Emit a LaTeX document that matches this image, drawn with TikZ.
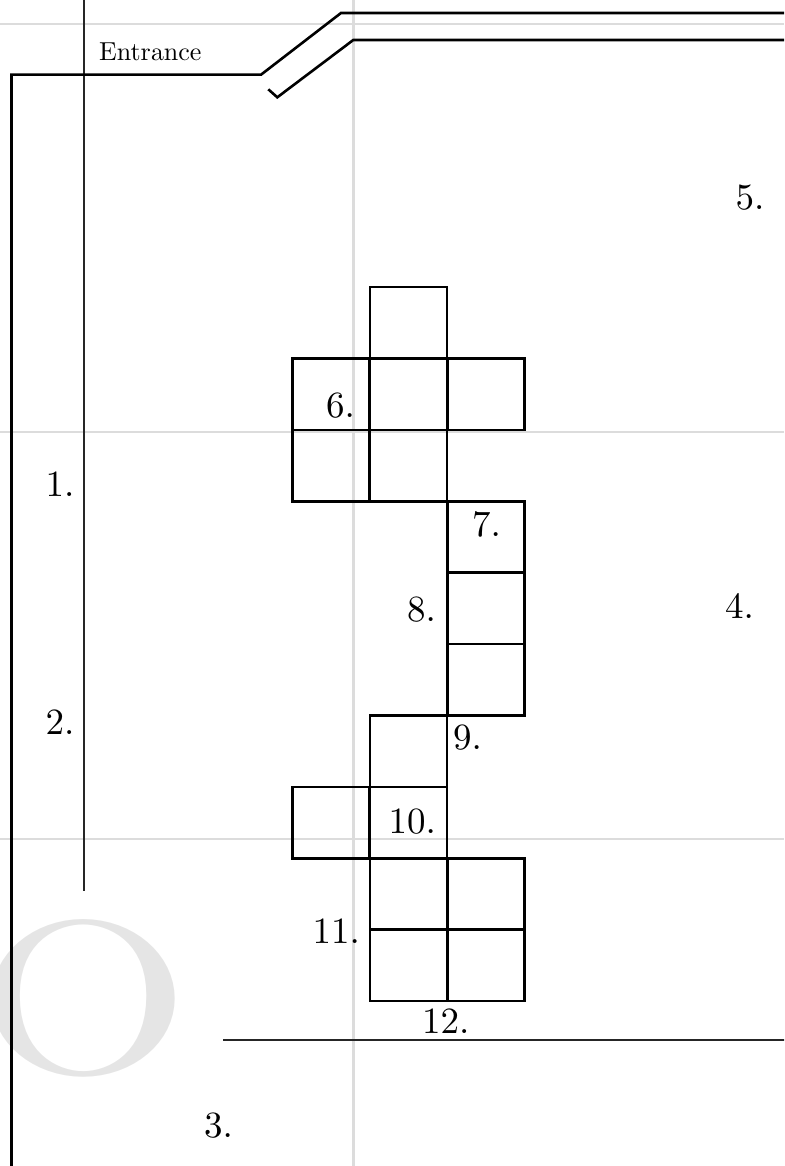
\documentclass[tikz,border=0pt]{standalone}
\definecolor{guide}{RGB}{220,220,220}
\definecolor{ogray}{RGB}{229,229,229}
\font\numfont=cmr10 at 37pt
\font\entfont=cmr10 at 26pt
\font\bigofont=cmr10 at 217pt
\begin{document}
\begin{tikzpicture}[x=1pt,y=-1pt,
  wall/.style={line width=2.6pt,line join=miter},
  thinline/.style={line width=1.2pt,black!85},
  guideline/.style={line width=2.4pt,guide},
  cell/.style={draw,line width=2.6pt,minimum width=77.2pt,minimum height=71.4pt,inner sep=0pt,outer sep=0pt},
  num/.style={font=\numfont,inner sep=0pt,anchor=base east}]
\useasboundingbox (0,0) rectangle (784,1166);
\clip (0,0) rectangle (784,1166);
% guide lines
\draw[guideline] (0,24) -- (784,24);
\draw[guideline] (0,432) -- (784,432);
\draw[guideline] (0,839) -- (784,839);
\draw[guideline] (353.3,0) -- (353.3,1166);
% big letter
\node[text=ogray,font=\bigofont,inner sep=0pt,anchor=base,xscale=1.27] (bigO) at (84,1072) {O};
% thin lines
\draw[thinline] (84,-2) -- (84,891);
\draw[thinline] (223,1040) -- (786,1040);
% walls
\draw[wall] (11.5,1170) -- (11.5,74.7) -- (261,74.7) -- (341,13) -- (790,13);
\draw[wall] (268.3,89.3) -- (277.3,97.3) -- (353.3,40) -- (790,40);
\node[font=\entfont,inner sep=0pt,anchor=base west] (entrance) at (99,61) {Entrance};
% cells
\node[cell] (a01) at (408.5,322.7) {};
\node[cell] (a10) at (331,394.1) {};
\node[cell] (a11) at (408.5,394.1) {};
\node[cell] (a12) at (486,394.1) {};
\node[cell] (a20) at (331,465.5) {};
\node[cell] (a21) at (408.5,465.5) {};
\node[cell] (a32) at (486,536.9) {};
\node[cell] (a42) at (486,608.3) {};
\node[cell] (a52) at (486,679.7) {};
\node[cell] (a61) at (408.5,751.1) {};
\node[cell] (a70) at (331,822.5) {};
\node[cell] (a71) at (408.5,822.5) {};
\node[cell] (a81) at (408.5,893.9) {};
\node[cell] (a82) at (486,893.9) {};
\node[cell] (a91) at (408.5,965.3) {};
\node[cell] (a92) at (486,965.3) {};
% numbers
\node[num] (n1) at (74.5,496) {1.};
\node[num] (n2) at (74.5,734) {2.};
\node[num] (n3) at (233,1137) {3.};
\node[num] (n4) at (754,618) {4.};
\node[num] (n5) at (764.5,210) {5.};
\node[num] (n6) at (355,417) {6.};
\node[num] (n7) at (501,536.5) {7.};
\node[num] (n8) at (436,621) {8.};
\node[num] (n9) at (482,749) {9.};
\node[num] (n10) at (436,833) {10.};
\node[num] (n11) at (360,943) {11.};
\node[num] (n12) at (469.5,1033) {12.};
\end{tikzpicture}
\end{document}
